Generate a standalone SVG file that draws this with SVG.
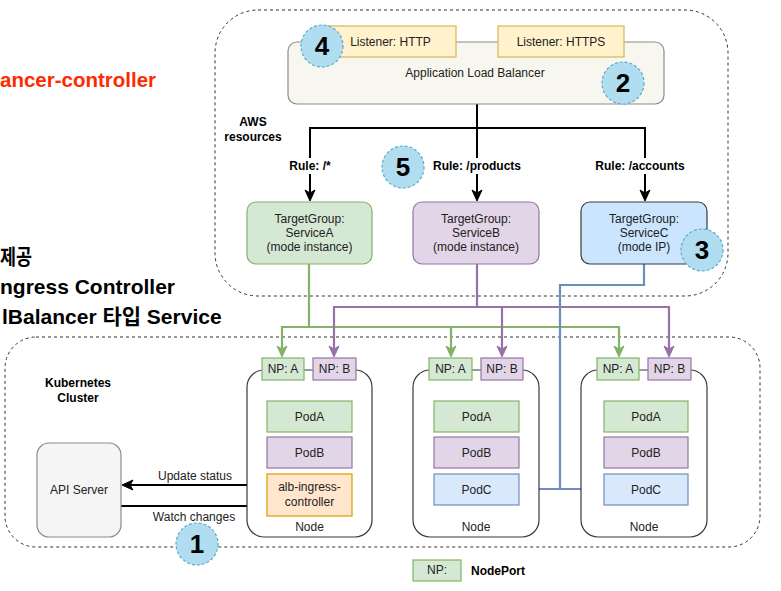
<svg xmlns="http://www.w3.org/2000/svg" width="781" height="591" viewBox="0 0 781 591">
<defs>
<style>
text{font-family:"Liberation Sans",Arial,"Noto Sans CJK KR",sans-serif;font-size:12px;fill:#222;}
.c{text-anchor:middle;}
.b{font-weight:bold;fill:#000;}
.big{font-size:21px;font-weight:bold;fill:#000;}
.red{font-size:20.5px;font-weight:bold;fill:#ff2b00;}
.num{font-size:26px;font-weight:bold;fill:#000;text-anchor:middle;}
.dash{fill:none;stroke:#333;stroke-width:1;stroke-dasharray:3,3;}
.g{fill:#d5e8d4;stroke:#82b366;stroke-width:1.2;}
.p{fill:#e1d5e7;stroke:#9673a6;stroke-width:1.2;}
.bl{fill:#dae8fc;stroke:#6c8ebf;stroke-width:1.2;}
.y{fill:#fff2cc;stroke:#d6b656;stroke-width:1.2;}
.o{fill:#ffe6cc;stroke:#d79b00;stroke-width:1.2;}
.node{fill:#fff;stroke:#36393d;stroke-width:1.2;}
.circ{fill:#b1ddf0;stroke:#5aa9cf;stroke-width:1.2;stroke-dasharray:3,2;}
.lk{fill:none;stroke:#000;stroke-width:2;}
.lg{fill:none;stroke:#82b366;stroke-width:2.2;}
.lp{fill:none;stroke:#9673a6;stroke-width:2.2;}
.lb{fill:none;stroke:#6c8ebf;stroke-width:2.2;}
.ak{fill:#000;stroke:#000;stroke-width:1;}
.ag{fill:#82b366;stroke:#82b366;stroke-width:1;}
.ap{fill:#9673a6;stroke:#9673a6;stroke-width:1;}
.ab{fill:#6c8ebf;stroke:#6c8ebf;stroke-width:1;}
</style>
</defs>
<rect width="781" height="591" fill="#fff"/>

<!-- side texts -->
<g id="side-text">
<text class="red" x="0" y="87">ancer-controller</text>
<text class="big" x="0" y="264" textLength="32" lengthAdjust="spacingAndGlyphs">제공</text>
<text class="big" x="0" y="294">ngress Controller</text>
<text class="big" x="2" y="324">lBalancer 타입 Service</text>
</g>

<!-- containers -->
<g id="aws-resources">
<rect class="dash" x="215" y="10" width="513" height="286" rx="43"/>
<text class="b c" x="253" y="126">AWS</text>
<text class="b c" x="253" y="141">resources</text>
</g>
<g id="k8s-cluster">
<rect class="dash" x="5" y="337" width="755" height="210" rx="31"/>
<text class="b c" x="78" y="387">Kubernetes</text>
<text class="b c" x="78" y="402">Cluster</text>
</g>

<!-- connectors -->
<g id="connectors">
<path class="lk" d="M477,104 V128 H310 V194"/>
<path class="lk" d="M477,128 V194"/>
<path class="lk" d="M477,128 H645 V194"/>
<path class="ak" d="M310,201 L305,190 L310,193 L315,190 Z"/>
<path class="ak" d="M477,201 L472,190 L477,193 L482,190 Z"/>
<path class="ak" d="M645,201 L640,190 L645,193 L650,190 Z"/>
<rect x="287" y="158" width="46" height="16" fill="#fff"/>
<text class="b c" x="310" y="170">Rule: /*</text>
<rect x="431" y="158" width="92" height="16" fill="#fff"/>
<text class="b c" x="477" y="170">Rule: /products</text>
<rect x="592" y="158" width="95" height="16" fill="#fff"/>
<text class="b c" x="640" y="170">Rule: /accounts</text>

<path class="lg" d="M309,264 V327 H282 V350"/>
<path class="lg" d="M309,327 H451 V350"/>
<path class="lg" d="M451,327 H619 V350"/>
<path class="ag" d="M282,357 L277,346 L282,349 L287,346 Z"/>
<path class="ag" d="M451,357 L446,346 L451,349 L456,346 Z"/>
<path class="ag" d="M619,357 L614,346 L619,349 L624,346 Z"/>

<path class="lp" d="M477,264 V307 H334 V350"/>
<path class="lp" d="M477,307 H502 V350"/>
<path class="lp" d="M502,307 H669 V350"/>
<path class="ap" d="M334,357 L329,346 L334,349 L339,346 Z"/>
<path class="ap" d="M502,357 L497,346 L502,349 L507,346 Z"/>
<path class="ap" d="M669,357 L664,346 L669,349 L674,346 Z"/>

<path class="lb" d="M644,264 V285 H560 V489"/>
<path class="lb" d="M527,489 H595"/>
<path class="ab" d="M520,489 L531,484 L528,489 L531,494 Z"/>
<path class="ab" d="M602,489 L591,484 L594,489 L591,494 Z"/>

<path class="lk" d="M267,485 H129"/>
<path class="ak" d="M122,485 L133,480 L130,485 L133,490 Z"/>
<text class="c" x="195" y="480">Update status</text>
<path class="lk" d="M121,506 H259"/>
<path class="ak" d="M266,506 L255,501 L258,506 L255,511 Z"/>
<text class="c" x="194" y="521">Watch changes</text>
</g>

<!-- ALB -->
<g id="alb">
<rect x="288" y="42" width="376" height="62" rx="9" fill="#f7f6ef" stroke="#8c8c8c" stroke-width="1.2"/>
<text class="c" x="475" y="77">Application Load Balancer</text>
</g>
<g id="listener-http">
<rect class="y" x="325" y="26" width="131" height="31"/>
<text class="c" x="390.5" y="46">Listener: HTTP</text>
</g>
<g id="listener-https">
<rect class="y" x="498" y="26" width="126" height="31"/>
<text class="c" x="561" y="46">Listener: HTTPS</text>
</g>

<!-- target groups -->
<g id="tg-a">
<rect class="g" x="247" y="202" width="125" height="62" rx="9"/>
<text class="c" x="309.5" y="223">TargetGroup:</text>
<text class="c" x="309.5" y="237">ServiceA</text>
<text class="c" x="309.5" y="251">(mode instance)</text>
</g>
<g id="tg-b">
<rect class="p" x="413" y="202" width="126" height="62" rx="9"/>
<text class="c" x="476" y="223">TargetGroup:</text>
<text class="c" x="476" y="237">ServiceB</text>
<text class="c" x="476" y="251">(mode instance)</text>
</g>
<g id="tg-c">
<rect x="581" y="202" width="126" height="62" rx="9" fill="#cce5ff" stroke="#36393d" stroke-width="1.2"/>
<text class="c" x="644" y="223">TargetGroup:</text>
<text class="c" x="644" y="237">ServiceC</text>
<text class="c" x="644" y="251">(mode IP)</text>
</g>

<!-- API server -->
<g id="api-server">
<rect x="37" y="443" width="84" height="94" rx="12" fill="#f5f5f5" stroke="#8c8c8c" stroke-width="1.2"/>
<text class="c" x="79" y="494">API Server</text>
</g>

<!-- Node 1 -->
<g id="node-1">
<rect class="node" x="247" y="370" width="125" height="167" rx="17"/>
<text class="c" x="309.5" y="531">Node</text>
<rect class="g" x="262" y="358" width="42" height="22"/>
<text class="c" x="283" y="373">NP: A</text>
<rect class="p" x="313" y="358" width="43" height="22"/>
<text class="c" x="334.5" y="373">NP: B</text>
<rect class="g" x="267" y="401" width="85" height="31"/>
<text class="c" x="309.5" y="421">PodA</text>
<rect class="p" x="267" y="437" width="85" height="31"/>
<text class="c" x="309.5" y="457">PodB</text>
<rect class="o" x="267" y="474" width="85" height="42"/>
<text class="c" x="309.5" y="491">alb-ingress-</text>
<text class="c" x="309.5" y="506">controller</text>
</g>

<!-- Node 2 -->
<g id="node-2">
<rect class="node" x="413" y="370" width="126" height="167" rx="17"/>
<text class="c" x="476" y="531">Node</text>
<rect class="g" x="429" y="358" width="43" height="22"/>
<text class="c" x="450.5" y="373">NP: A</text>
<rect class="p" x="481" y="358" width="42" height="22"/>
<text class="c" x="502" y="373">NP: B</text>
<rect class="g" x="434" y="401" width="85" height="31"/>
<text class="c" x="476.5" y="421">PodA</text>
<rect class="p" x="434" y="437" width="85" height="31"/>
<text class="c" x="476.5" y="457">PodB</text>
<rect class="bl" x="434" y="474" width="85" height="31"/>
<text class="c" x="476.5" y="494">PodC</text>
</g>

<!-- Node 3 -->
<g id="node-3">
<rect class="node" x="581" y="370" width="126" height="167" rx="17"/>
<text class="c" x="644" y="531">Node</text>
<rect class="g" x="597" y="358" width="42" height="22"/>
<text class="c" x="618" y="373">NP: A</text>
<rect class="p" x="648" y="358" width="43" height="22"/>
<text class="c" x="669.5" y="373">NP: B</text>
<rect class="g" x="604" y="401" width="84" height="31"/>
<text class="c" x="646" y="421">PodA</text>
<rect class="p" x="604" y="437" width="84" height="31"/>
<text class="c" x="646" y="457">PodB</text>
<rect class="bl" x="604" y="474" width="84" height="31"/>
<text class="c" x="646" y="494">PodC</text>
</g>

<!-- numbered markers -->
<g id="step-1"><circle class="circ" cx="197" cy="544" r="21"/><text class="num" x="197" y="553">1</text></g>
<g id="step-2"><circle class="circ" cx="623" cy="83" r="21"/><text class="num" x="623" y="92">2</text></g>
<g id="step-3"><circle class="circ" cx="702" cy="250" r="21"/><text class="num" x="702" y="259">3</text></g>
<g id="step-4"><circle class="circ" cx="322" cy="46" r="21"/><text class="num" x="322" y="55">4</text></g>
<g id="step-5"><circle class="circ" cx="403" cy="167" r="21"/><text class="num" x="403" y="176">5</text></g>

<!-- legend -->
<g id="legend">
<rect class="g" x="413" y="560" width="48" height="21"/>
<text class="c" x="437" y="574">NP:</text>
<text class="b" x="471" y="575">NodePort</text>
</g>
</svg>
